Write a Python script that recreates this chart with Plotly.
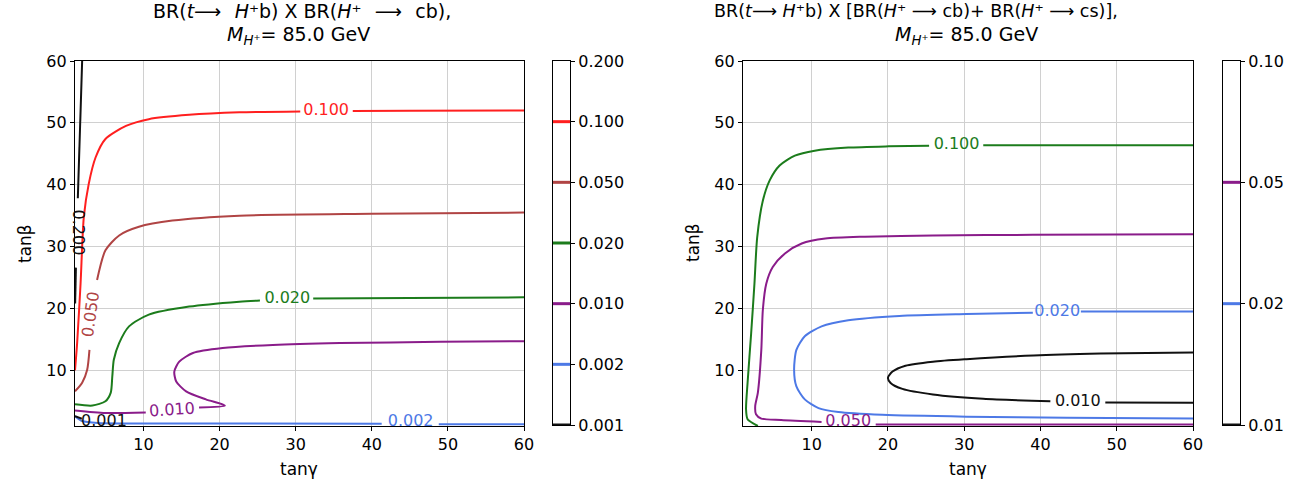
import plotly.graph_objects as go

FONT = "DejaVu Sans"
W, H = 1307, 487

# ---------------- data: left panel, BR(t->H+b) x BR(H+->cb) ----------------
left_levels = ["0.200", "0.100", "0.050", "0.020", "0.010", "0.002", "0.001"]

l200_x = [1.94, 1.37, None, 1.12, 1.02]
l200_y = [60.0, 37.8, None, 26.6, 20.8]
l100_x = [1.0, 1.28, 1.73, 2.16, 2.8, 3.7, 5.0, 7.7, 10.7, 16.0, 22.6, 30.6, None, 37.5, 45.0, 60.0]
l100_y = [10.0, 14.4, 24.0, 34.8, 40.1, 44.4, 47.4, 49.5, 50.6, 51.3, 51.7, 51.85, None, 51.9, 51.95, 52.0]
l050_x = [1.0, 1.94, 2.6, 2.9, None, 3.9, 5.0, 6.8, 9.4, 13.8, 22.6, 40.0, 60.0]
l050_y = [6.6, 8.0, 10.1, 13.3, None, 24.6, 29.4, 31.8, 33.2, 34.2, 35.0, 35.3, 35.5]
l020_x = [1.0, 3.3, 5.0, 5.7, 5.9, 6.1, 6.8, 8.1, 10.7, 16.0, 22.6, 25.3, None, 32.3, 45.0, 60.0]
l020_y = [4.5, 4.3, 5.0, 6.4, 9.0, 11.7, 14.4, 17.1, 19.0, 20.3, 21.1, 21.3, None, 21.6, 21.7, 21.8]
l010_x = [1.0, 5.0, 10.3, None, 17.3, 20.7, 18.2, 15.6, 14.3, 14.05, 14.7, 16.5, 20.4, 27.0, 35.8, 49.0, 60.0]
l010_y = [3.5, 3.1, 3.2, None, 4.0, 4.3, 5.3, 6.6, 8.2, 9.8, 11.4, 12.8, 13.6, 14.1, 14.4, 14.6, 14.7]
l002_x = [1.0, 1.94, 4.0, 20.0, 41.3, None, 48.8, 60.0]
l002_y = [2.6, 1.8, 1.5, 1.4, 1.35, None, 1.3, 1.3]
l001_x = [1.0, 1.9]
l001_y = [2.6, 2.2]

# label positions (tanγ, tanβ)
l_lab_flat_text = ["0.100", "0.020", "0.002", "0.001"]
l_lab_flat_x = [34.0, 28.9, 45.1, 4.8]
l_lab_flat_y = [51.9, 21.6, 1.6, 1.65]
l_lab_rot_text = ["0.200", "0.050", "0.010"]
l_lab_rot_x = [1.5, 3.05, 13.8]
l_lab_rot_y = [32.3, 19.0, 3.6]
l_lab_rot_angle = [90, -82, -4]

# ---------------- data: right panel, BR(t->H+b) x [BR(cb)+BR(cs)] ----------------
r100_x = [2.95, 1.6, 1.4, 1.6, 2.07, 2.5, 2.86, 3.6, 4.5, 5.8, 7.8, 10.4, 14.8, 20.1, 25.4, None, 32.5, 45.0, 60.0]
r100_y = [1.0, 2.1, 3.7, 8.0, 16.0, 24.0, 31.5, 37.4, 40.7, 43.1, 44.7, 45.5, 46.0, 46.2, 46.3, None, 46.4, 46.4, 46.4]
r050_x = [60.0, 18.4, None, 11.3, 6.0, 3.4, 2.7, 2.6, 2.95, 3.4, 3.6, 4.05, 4.9, 6.5, 8.7, 11.8, 17.0, 25.9, 39.0, 60.0]
r050_y = [1.25, 1.25, None, 1.64, 1.96, 2.2, 2.9, 4.2, 6.4, 13.3, 19.75, 24.0, 26.7, 28.9, 30.5, 31.3, 31.6, 31.8, 31.9, 32.0]
r020_x = [60.0, 45.3, None, 39.0, 30.3, 21.5, 14.8, 11.3, 9.1, 8.0, 7.7, 8.0, 9.1, 10.9, 13.5, 19.25, 30.3, 43.5, 60.0]
r020_y = [19.5, 19.5, None, 19.3, 19.1, 18.8, 18.1, 17.1, 15.5, 13.3, 10.1, 7.4, 5.3, 3.9, 3.25, 2.8, 2.5, 2.34, 2.2]
r010_x = [60.0, 47.9, 39.1, 30.3, 25.9, 22.3, 20.6, 20.0, 20.35, 21.9, 25.9, 32.5, 41.3, None, 48.5, 60.0]
r010_y = [12.9, 12.7, 12.4, 11.8, 11.4, 10.75, 9.8, 8.8, 7.96, 7.0, 6.1, 5.4, 5.0, None, 4.8, 4.75]

r_lab_text = ["0.100", "0.050", "0.020", "0.010"]
r_lab_x = [29.0, 14.8, 42.2, 44.9]
r_lab_y = [46.4, 1.7, 19.4, 4.9]

# colorbar levels
cb1_levels = ["0.001", "0.002", "0.010", "0.020", "0.050", "0.100", "0.200"]
cb2_levels = ["0.01", "0.02", "0.05", "0.10"]

axis_ticks = [10, 20, 30, 40, 50, 60]

# ---------------- styles ----------------
C_BLACK = "#111111"
C_RED = "#ff1f1f"
C_BROWN = "#b04444"
C_GREEN = "#1c7c1c"
C_PURPLE = "#8a1c8a"
C_BLUE = "#4d79e6"

left_series = [
    (l200_x, l200_y, C_BLACK),
    (l100_x, l100_y, C_RED),
    (l050_x, l050_y, C_BROWN),
    (l020_x, l020_y, C_GREEN),
    (l010_x, l010_y, C_PURPLE),
    (l002_x, l002_y, C_BLUE),
    (l001_x, l001_y, C_BLACK),
]
l_flat_colors = [C_RED, C_GREEN, C_BLUE, C_BLACK]
l_rot_colors = [C_BLACK, C_BROWN, C_PURPLE]
right_series = [
    (r100_x, r100_y, C_GREEN),
    (r050_x, r050_y, C_PURPLE),
    (r020_x, r020_y, C_BLUE),
    (r010_x, r010_y, C_BLACK),
]
r_lab_colors = [C_GREEN, C_PURPLE, C_BLUE, C_BLACK]
cb1_colors = [C_BLACK, C_BLUE, C_PURPLE, C_GREEN, C_BROWN, C_RED, None]
cb2_colors = [C_BLACK, C_BLUE, C_PURPLE, None]

TICK = 16
LAB = 16


def px_x(p):
    return p / W


def px_y(p):
    return 1 - p / H


fig = go.Figure()

for xs, ys, col in left_series:
    fig.add_trace(go.Scatter(x=xs, y=ys, mode="lines", xaxis="x", yaxis="y",
                             line=dict(color=col, width=2, shape="spline", smoothing=0.7),
                             connectgaps=False, showlegend=False, hoverinfo="skip"))
fig.add_trace(go.Scatter(x=l_lab_flat_x, y=l_lab_flat_y, text=l_lab_flat_text, mode="text",
                         xaxis="x", yaxis="y", cliponaxis=True,
                         textfont=dict(family=FONT, size=LAB, color=l_flat_colors),
                         showlegend=False, hoverinfo="skip"))

for xs, ys, col in right_series:
    fig.add_trace(go.Scatter(x=xs, y=ys, mode="lines", xaxis="x2", yaxis="y2",
                             line=dict(color=col, width=2, shape="spline", smoothing=0.7),
                             connectgaps=False, showlegend=False, hoverinfo="skip"))
fig.add_trace(go.Scatter(x=r_lab_x, y=r_lab_y, text=r_lab_text, mode="text",
                         xaxis="x2", yaxis="y2", cliponaxis=True,
                         textfont=dict(family=FONT, size=LAB, color=r_lab_colors),
                         showlegend=False, hoverinfo="skip"))

# colorbars
for i, col in enumerate(cb1_colors):
    if col is None:
        continue
    fig.add_trace(go.Scatter(x=[0, 1], y=[i, i], mode="lines", xaxis="x3", yaxis="y3",
                             line=dict(color=col, width=3), cliponaxis=True,
                             showlegend=False, hoverinfo="skip"))
for i, col in enumerate(cb2_colors):
    if col is None:
        continue
    fig.add_trace(go.Scatter(x=[0, 1], y=[i, i], mode="lines", xaxis="x4", yaxis="y4",
                             line=dict(color=col, width=3), cliponaxis=True,
                             showlegend=False, hoverinfo="skip"))

ydom = [px_y(426), px_y(61)]
cbdom = [px_y(425), px_y(61)]

main_ax = dict(range=[1, 60], tickvals=axis_ticks, ticks="outside", ticklen=4, tickwidth=1,
               tickcolor="black", showline=True, linecolor="black", linewidth=1.2, mirror=True,
               showgrid=True, gridcolor="#d0d0d0", gridwidth=1, zeroline=False, automargin=False,
               tickfont=dict(family=FONT, size=TICK, color="black"))
cb_x = dict(range=[0, 1], showticklabels=False, ticks="", showline=True, linecolor="black",
            linewidth=1.2, mirror=True, showgrid=False, zeroline=False, fixedrange=True,
            automargin=False)
cb_y = dict(side="right", ticks="outside", ticklen=4, tickwidth=1, tickcolor="black",
            showline=True, linecolor="black", linewidth=1.2, mirror=True, showgrid=False,
            zeroline=False, automargin=False, tickfont=dict(family=FONT, size=TICK, color="black"))

fig.update_layout(
    width=W, height=H, autosize=False,
    margin=dict(l=0, r=0, t=0, b=0, pad=0, autoexpand=False),
    paper_bgcolor="white", plot_bgcolor="white",
    font=dict(family=FONT, size=TICK, color="black"),
    xaxis=dict(main_ax, domain=[px_x(75), px_x(524)], anchor="y"),
    yaxis=dict(main_ax, domain=ydom, anchor="x"),
    xaxis2=dict(main_ax, domain=[px_x(743), px_x(1193)], anchor="y2"),
    yaxis2=dict(main_ax, domain=ydom, anchor="x2"),
    xaxis3=dict(cb_x, domain=[px_x(553), px_x(570)], anchor="y3"),
    yaxis3=dict(cb_y, domain=cbdom, anchor="x3", range=[0, 6], tickvals=list(range(7)),
                ticktext=cb1_levels),
    xaxis4=dict(cb_x, domain=[px_x(1223), px_x(1240)], anchor="y4"),
    yaxis4=dict(cb_y, domain=cbdom, anchor="x4", range=[0, 3], tickvals=list(range(4)),
                ticktext=cb2_levels),
    showlegend=False,
)

ann = []
for t, x, y, a, c in zip(l_lab_rot_text, l_lab_rot_x, l_lab_rot_y, l_lab_rot_angle, l_rot_colors):
    ann.append(dict(text=t, x=x, y=y, xref="x", yref="y", textangle=a, showarrow=False,
                    font=dict(family=FONT, size=LAB, color=c)))

GAP = "\u2002\u2009"
HP = "<i>H</i>⁺"
titles = [
    ("BR(<i>t</i>⟶" + GAP + HP + "b) X BR(" + HP + GAP + "⟶" + GAP + "cb),", 302, 11, 19),
    ("<i>M</i><sub><i>H</i>⁺</sub>= 85.0 GeV", 298, 35, 19),
    ("BR(<i>t</i>⟶ " + HP + "b) X [BR(" + HP + " ⟶ cb)+ BR(" + HP + " ⟶ cs)],", 916, 11, 17.5),
    ("<i>M</i><sub><i>H</i>⁺</sub>= 85.0 GeV", 967, 35, 19),
]
for t, x, y, s in titles:
    ann.append(dict(text=t, x=px_x(x), y=px_y(y), xref="paper", yref="paper",
                    xanchor="center", yanchor="middle", showarrow=False,
                    font=dict(family=FONT, size=s, color="black")))

label_font = dict(family=FONT, size=17, color="black")
for x in (299, 968):
    ann.append(dict(text="tanγ", x=px_x(x), y=px_y(469), xref="paper", yref="paper",
                    xanchor="center", yanchor="middle", showarrow=False, font=label_font))
for x in (25, 693):
    ann.append(dict(text="tanβ", x=px_x(x), y=px_y(243), xref="paper", yref="paper",
                    xanchor="center", yanchor="middle", textangle=-90, showarrow=False,
                    font=label_font))

fig.update_layout(annotations=ann)
fig.write_html("out.html", config={"displayModeBar": False},
               post_script="document.body.style.margin='0';document.body.style.overflow='hidden';")
